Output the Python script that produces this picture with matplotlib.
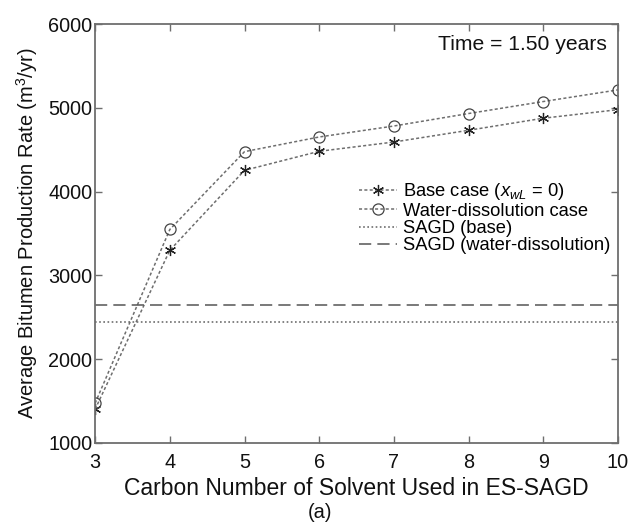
import matplotlib
matplotlib.use("Agg")
import matplotlib.pyplot as plt

plt.rcParams['font.family'] = ['Liberation Sans', 'DejaVu Sans']
plt.rcParams['mathtext.fontset'] = 'custom'
plt.rcParams['mathtext.rm'] = 'Liberation Sans'
plt.rcParams['mathtext.it'] = 'Liberation Sans:italic'

carbon = [3, 4, 5, 6, 7, 8, 9, 10]
base_case = [1403, 3300, 4254, 4481, 4592, 4732, 4876, 4978]
water_case = [1475, 3548, 4477, 4652, 4783, 4932, 5075, 5214]
sagd_base = 2448
sagd_water = 2652
yticks = [1000, 2000, 3000, 4000, 5000, 6000]

fig = plt.figure(figsize=(6.30, 5.28), dpi=100)
ax = fig.add_axes([0.151, 0.161, 0.830, 0.7935])

gray = '#6e6e6e'
ax.plot(carbon, base_case, color=gray, linestyle=(0, (2, 1.5)), linewidth=1.1,
        marker=(6, 2, 0), markersize=8, markeredgecolor='#222222', markeredgewidth=0.9,
        label='Base case ($x_{wL}$ = 0)')
ax.plot(carbon, water_case, color=gray, linestyle=(0, (2, 1.5)), linewidth=1.1,
        marker='o', markersize=8, markerfacecolor='none', markeredgecolor='#444444',
        markeredgewidth=0.9, label='Water-dissolution case')
ax.axhline(sagd_base, color=gray, linestyle=(0, (1, 1.5)), linewidth=1.2, label='SAGD (base)')
ax.axhline(sagd_water, color='#555555', linestyle=(0, (8, 4)), linewidth=1.1,
           label='SAGD (water-dissolution)')

ax.set_xlim(3, 10)
ax.set_ylim(1000, 6000)
ax.set_xticks(carbon)
ax.set_yticks(yticks)
ax.tick_params(direction='in', top=True, right=True, length=5, width=1, color=gray,
               labelsize=14.3, labelcolor='#111111', pad=2)
ax.tick_params(axis='x', pad=7)
for s in ax.spines.values():
    s.set_color(gray)
    s.set_linewidth(1.3)

ax.set_xlabel('Carbon Number of Solvent Used in ES-SAGD', fontsize=16.5, color='#111111', labelpad=4)
ax.set_ylabel('Average Bitumen Production Rate (m$^3$/yr)', fontsize=14.5, color='#111111', labelpad=6)
fig.text(0.5075, 0.012, '(a)', ha='center', va='bottom', fontsize=14.5, color='#111111')

ax.text(0.978, 0.95, 'Time = 1.50 years', transform=ax.transAxes, ha='right', va='center',
        fontsize=15.2, color='#111111')

leg = ax.legend(loc='upper left', bbox_to_anchor=(0.49, 0.642), frameon=False, fontsize=13.2,
                handlelength=2.1, handletextpad=0.3, labelspacing=0.02, borderaxespad=0)

fig.savefig('out.png', dpi=100)
